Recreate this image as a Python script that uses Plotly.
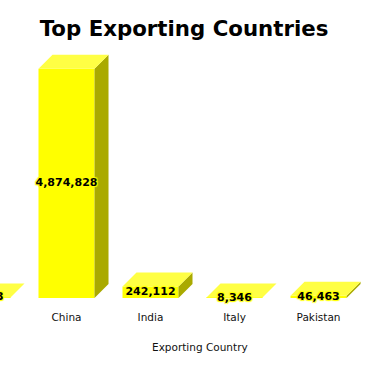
import plotly.graph_objects as go

# ---- data ----
countries = ["Bangladesh", "China", "India", "Italy", "Pakistan"]
exports = [12863, 4874828, 242112, 8346, 46463]
labels = [f"{v:,}" for v in exports]

# ---- layout constants ----
W, H = 368, 371
BASE_PX = 298          # pixel row of the zero line
PLOT_TOP_PX = 44
PLOT_BOT_PX = 312
M_L, M_R, M_T, M_B = 0, 0, PLOT_TOP_PX, H - PLOT_BOT_PX
X_RANGE = [0.2083, 4.589]
UNITS_PER_PX = 5.4e6 / (BASE_PX - PLOT_TOP_PX)
Y_RANGE = [-(PLOT_BOT_PX - BASE_PX) * UNITS_PER_PX, (BASE_PX - PLOT_TOP_PX) * UNITS_PER_PX]
BAR_W = 0.667
DEPTH_PX = 14

plot_w = W - M_L - M_R
plot_h = H - M_T - M_B
dx = DEPTH_PX * (X_RANGE[1] - X_RANGE[0]) / plot_w
dy = DEPTH_PX * UNITS_PER_PX

FRONT = "#ffff00"
TOP = "#ffff44"
SIDE = "#aaaa00"

xs = list(range(len(countries)))

fig = go.Figure()
fig.add_trace(go.Bar(x=xs, y=exports, width=BAR_W, marker=dict(color=FRONT, line=dict(width=0)),
                     hoverinfo="skip", showlegend=False))

for x, v in zip(xs, exports):
    l, r = x - BAR_W / 2, x + BAR_W / 2
    # side face
    fig.add_trace(go.Scatter(x=[r, r + dx, r + dx, r, r], y=[0, dy, v + dy, v, 0],
                             fill="toself", fillcolor=SIDE, mode="lines", line=dict(width=0),
                             hoverinfo="skip", showlegend=False))
    # top face
    fig.add_trace(go.Scatter(x=[l, r, r + dx, l + dx, l], y=[v, v, v + dy, v + dy, v],
                             fill="toself", fillcolor=TOP, mode="lines", line=dict(width=0),
                             hoverinfo="skip", showlegend=False))

shadow = ("1px 1px 1px #ffff00, -1px -1px 1px #ffff00, 1px -1px 1px #ffff00, "
          "-1px 1px 1px #ffff00")
fig.add_trace(go.Scatter(x=xs, y=[v / 2 for v in exports], mode="text", text=labels,
                         textposition="middle center", cliponaxis=True,
                         textfont=dict(family="DejaVu Sans", size=11, color="black",
                                       weight="bold", shadow=shadow),
                         hoverinfo="skip", showlegend=False))

fig.update_layout(
    width=W, height=H,
    margin=dict(l=M_L, r=M_R, t=M_T, b=M_B, pad=0),
    paper_bgcolor="white", plot_bgcolor="white",
    title=dict(text="Top Exporting Countries", x=0.5, xanchor="center",
               y=1 - 29 / H, yanchor="middle", yref="container",
               font=dict(family="DejaVu Sans", size=21.3, color="black", weight="bold")),
    xaxis=dict(range=X_RANGE, tickvals=xs, ticktext=countries, showgrid=False,
               zeroline=False, showline=False, ticks="", ticklabelstandoff=-3,
               tickfont=dict(family="DejaVu Sans", size=10.5, color="#111")),
    yaxis=dict(range=Y_RANGE, visible=False, showgrid=False, zeroline=False),
    annotations=[dict(text="Exporting Country", xref="paper", yref="paper",
                      x=199.5 / W, y=-(347 - PLOT_BOT_PX) / plot_h, xanchor="center",
                      yanchor="middle", showarrow=False,
                      font=dict(family="DejaVu Sans", size=10.5, color="#111"))],
)

fig.write_html("out.html", config={"displayModeBar": False},
               post_script="document.body.style.margin='0px';document.body.style.overflow='hidden';")
